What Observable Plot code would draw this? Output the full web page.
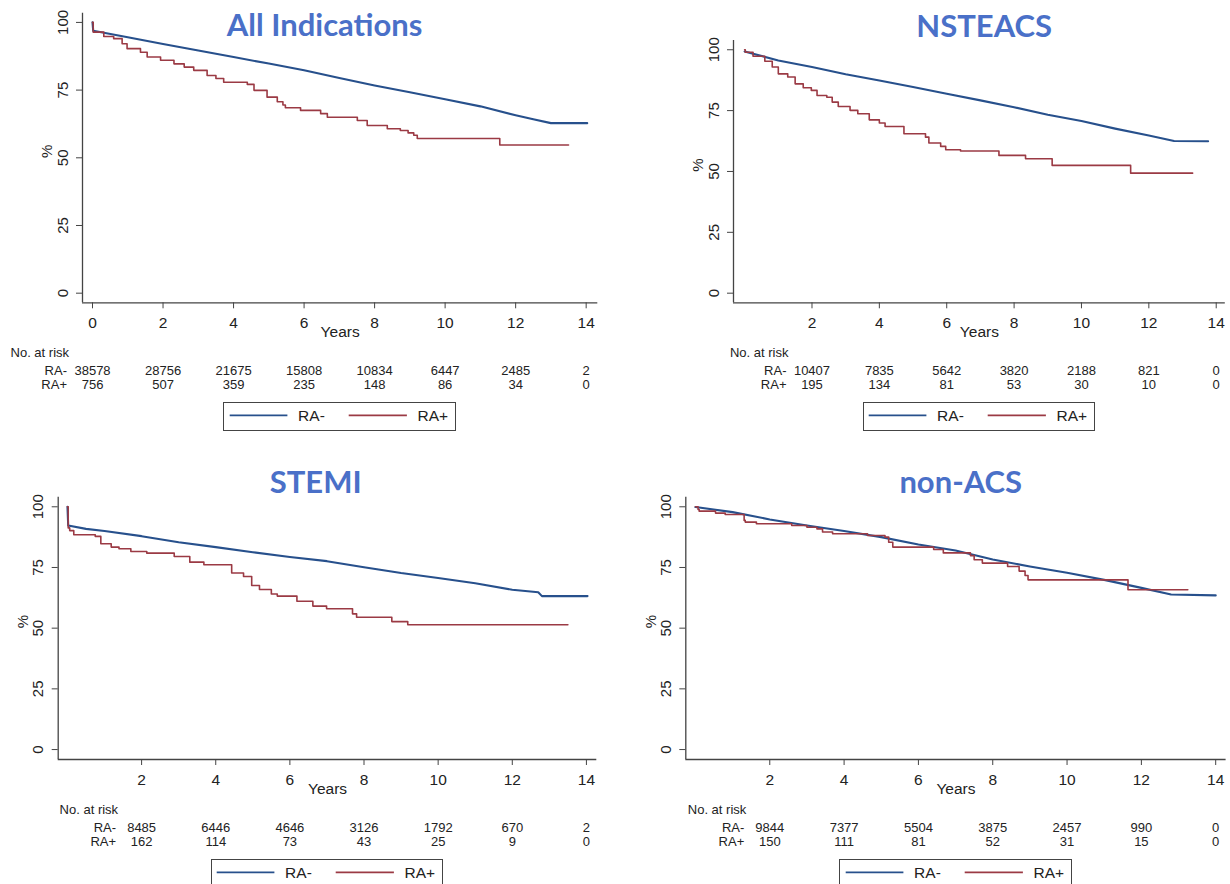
<!DOCTYPE html>
<html>
<head>
<meta charset="utf-8">
<script src="https://cdn.jsdelivr.net/npm/d3@7"></script>
<script src="https://cdn.jsdelivr.net/npm/@observablehq/plot@0.6"></script>
<style>
  html, body { margin: 0; padding: 0; background: #fff; }
  #page { position: relative; width: 1230px; height: 884px; overflow: hidden; background: #fff; }
  .panel { position: absolute; }
  .legend { position: absolute; box-sizing: border-box; border: 1.5px solid #444; background: #fff; }
</style>
</head>
<body>
<div id="page"></div>
<script>
// ---------- data ----------
const titles = ["All Indications", "NSTEACS", "STEMI", "non-ACS"];
const groups = ["RA-", "RA+"];
const yTicks = [0, 25, 50, 75, 100];
const xTicksAll = [0, 2, 4, 6, 8, 10, 12, 14];
const xTicksSub = [2, 4, 6, 8, 10, 12, 14];

// survival curves: [years, %]
const allNeg = [[0,100],[0.02,96.9],[1,94.5],[2,92],[3,89.6],[4,87.2],[5,84.8],[6,82.3],[7,79.5],[8,76.7],[9,74.2],[10,71.6],[11,69],[12,65.7],[12.5,64.2],[13,62.8],[14.03,62.8]];
const allPos = [[0,100],[0.02,96.4],[0.32,94.8],[0.6,94],[0.84,92.1],[0.98,90.3],[1.36,89],[1.55,87.2],[1.93,86],[2.31,84.7],[2.6,83.5],[2.87,82.3],[3.25,80.4],[3.5,79.3],[3.72,77.9],[4.39,77.1],[4.58,74.9],[4.95,72.4],[5.24,70.7],[5.4,69.5],[5.47,68.5],[5.9,67.5],[6.47,66.3],[6.66,65],[7.51,63.8],[7.79,61.9],[8.36,60.7],[8.73,60.1],[8.95,59.2],[9.11,58.3],[9.21,57.1],[11.55,54.7],[13.5,54.7]];
const nsteNeg = [[0,99.3],[1,95.6],[2,92.9],[3,89.9],[4,87.4],[5,84.7],[6,81.9],[7,79.2],[8,76.4],[9,73.3],[10,70.7],[11,67.6],[12,64.8],[12.75,62.5],[13.76,62.4]];
const nstePos = [[0,100],[0.02,99],[0.25,97.3],[0.6,95.3],[0.82,92.9],[1.0,90.1],[1.28,88.8],[1.5,86],[1.74,84.4],[1.98,83.3],[2.15,81.2],[2.44,80.5],[2.6,78.5],[2.78,76.7],[3.13,75.1],[3.36,73.7],[3.7,71.2],[4.0,69.9],[4.17,68.5],[4.73,65.5],[5.37,64.1],[5.47,61.7],[5.82,60.3],[5.97,58.9],[6.41,58.4],[7.55,56.6],[8.34,55.2],[9.13,52.5],[11.46,49.3],[13.3,49.3]];
const stemiNeg = [[0,100],[0.02,92.3],[0.5,90.9],[1,90],[2,87.9],[3,85.4],[4,83.4],[5,81.3],[6,79.3],[7,77.6],[8,75.1],[9,72.7],[10,70.7],[11,68.5],[12,65.8],[12.7,64.8],[12.8,63.2],[14.03,63.2]];
const stemiPos = [[0,100],[0.02,91.3],[0.06,90.2],[0.17,88.5],[0.75,87.8],[0.9,84.8],[1.18,83.4],[1.39,82.7],[1.71,81.6],[2.14,80.9],[2.88,79.5],[3.3,77.2],[3.68,76.1],[4.43,72.7],[4.75,71.3],[4.97,67.6],[5.18,65.9],[5.5,64.1],[5.66,63.2],[6.19,61.1],[6.62,59.1],[6.99,58],[7.69,55.9],[7.8,54.5],[8.75,52.7],[9.18,51.4],[13.5,51.4]];
const nonNeg = [[0,99.9],[1,97.8],[2,94.8],[3,92.3],[4,90],[5,87.5],[6,84.5],[7,82],[8,78.3],[9,75.4],[10,72.8],[11,69.9],[12,66.6],[12.8,63.9],[14,63.5]];
const nonPos = [[0,100],[0.07,98.9],[0.1,98.2],[0.54,97.4],[0.8,96.8],[1.31,94.4],[1.34,93.7],[1.64,93],[2.59,92.3],[3.0,91.6],[3.27,90.9],[3.42,89.6],[3.69,88.9],[4.63,88.2],[5.1,87.5],[5.2,85.4],[5.31,83.4],[6.41,82.4],[6.67,81],[7.4,79.9],[7.5,78.2],[7.72,76.8],[8.4,75.4],[8.71,73.5],[8.87,71.7],[8.95,69.9],[11.64,65.8],[13.25,65.8]];

// numbers at risk
const allRiskNeg = [38578, 28756, 21675, 15808, 10834, 6447, 2485, 2];
const allRiskPos = [756, 507, 359, 235, 148, 86, 34, 0];
const nsteRiskNeg = [10407, 7835, 5642, 3820, 2188, 821, 0];
const nsteRiskPos = [195, 134, 81, 53, 30, 10, 0];
const stemiRiskNeg = [8485, 6446, 4646, 3126, 1792, 670, 2];
const stemiRiskPos = [162, 114, 73, 43, 25, 9, 0];
const nonRiskNeg = [9844, 7377, 5504, 3875, 2457, 990, 0];
const nonRiskPos = [150, 111, 81, 52, 31, 15, 0];

// ---------- style ----------
const BLUE = "#27508c";
const RED = "#9b3a44";
const TITLE = "#4a70c8";
const INK = "#222";
const AXIS = "#444";
const FONT = "'Liberation Sans', Arial, Helvetica, sans-serif";
const TFONT = "Lato, 'Open Sans', sans-serif";

const panels = [
  {title: titles[0], neg: allNeg, pos: allPos, ticks: xTicksAll, rn: allRiskNeg, rp: allRiskPos,
   box: {left: 0, top: 0, w: 615, h: 440}, m: {l: 82, r: 17.7, t: 12.7, b: 137.7},
   xd: [-0.284, 14.33], yd: [-3.55, 103.4], tdx: -15.5, tdy: 22.3},
  {title: titles[1], neg: nsteNeg, pos: nstePos, ticks: xTicksSub, rn: nsteRiskNeg, rp: nsteRiskPos,
   box: {left: 615, top: 0, w: 615, h: 440}, m: {l: 118, r: 5.2, t: 40, b: 137.7},
   xd: [-0.33, 14.27], yd: [-3.95, 103.8], tdx: 4.8, tdy: -4},
  {title: titles[2], neg: stemiNeg, pos: stemiPos, ticks: xTicksSub, rn: stemiRiskNeg, rp: stemiRiskPos,
   box: {left: 0, top: 440, w: 615, h: 444}, m: {l: 57.7, r: 18.7, t: 56.7, b: 125},
   xd: [-0.25, 14.28], yd: [-4.1, 103.95], tdx: -11.8, tdy: -4.4},
  {title: titles[3], neg: nonNeg, pos: nonPos, ticks: xTicksSub, rn: nonRiskNeg, rp: nonRiskPos,
   box: {left: 615, top: 440, w: 615, h: 444}, m: {l: 70.3, r: 4.4, t: 56.7, b: 125},
   xd: [-0.26, 14.28], yd: [-4.1, 103.95], tdx: 4.8, tdy: -4.4}
];

const page = document.getElementById("page");

for (const p of panels) {
  const rows = p.ticks.map((t, i) => ({t, n: p.rn[i], q: p.rp[i]}));
  const t0 = p.ticks[0];
  const chart = Plot.plot({
    width: p.box.w, height: p.box.h,
    marginLeft: p.m.l, marginRight: p.m.r, marginTop: p.m.t, marginBottom: p.m.b,
    x: {domain: p.xd},
    y: {domain: p.yd},
    style: {fontFamily: FONT, color: INK, background: "transparent", overflow: "visible"},
    marks: [
      Plot.ruleX([p.xd[0]], {stroke: AXIS, strokeWidth: 1.3}),
      Plot.ruleY([p.yd[0]], {stroke: AXIS, strokeWidth: 1.3}),
      Plot.axisX(p.ticks, {tickSize: 6, tickPadding: 8, fontSize: 15.5, stroke: AXIS, fill: INK, label: null}),
      Plot.axisY(yTicks, {tickSize: 6, tickPadding: 9, tickRotate: -90, fontSize: 15, stroke: AXIS, fill: INK, label: null}),
      Plot.line(p.neg, {x: d => d[0], y: d => d[1], stroke: BLUE, strokeWidth: 2.1}),
      Plot.line(p.pos, {x: d => d[0], y: d => d[1], curve: "step-after", stroke: RED, strokeWidth: 1.6}),
      Plot.text([p.title], {frameAnchor: "top", dx: p.tdx, dy: p.tdy, lineAnchor: "bottom",
        fontFamily: TFONT, fontWeight: "bold", fontSize: 31, fill: TITLE}),
      Plot.text(["Years"], {frameAnchor: "bottom", dy: 34.4, fontSize: 15.5, fill: INK}),
      Plot.text(["%"], {frameAnchor: "left", dx: -35, rotate: -90, fontSize: 15, fill: INK}),
      Plot.text(["No. at risk"], {x: () => t0, frameAnchor: "bottom", dy: 54.4, dx: -82, textAnchor: "start", fontSize: 13, fill: INK}),
      Plot.text([groups[0]], {x: () => t0, frameAnchor: "bottom", dy: 72, dx: -25.5, textAnchor: "end", fontSize: 13, fill: INK}),
      Plot.text([groups[1]], {x: () => t0, frameAnchor: "bottom", dy: 86.3, dx: -25.5, textAnchor: "end", fontSize: 13, fill: INK}),
      Plot.text(rows, {x: "t", text: d => String(d.n), frameAnchor: "bottom", dy: 72, fontSize: 13, fill: INK}),
      Plot.text(rows, {x: "t", text: d => String(d.q), frameAnchor: "bottom", dy: 86.3, fontSize: 13, fill: INK})
    ]
  });
  const holder = document.createElement("div");
  holder.className = "panel";
  holder.style.left = p.box.left + "px";
  holder.style.top = p.box.top + "px";
  holder.appendChild(chart);
  page.appendChild(holder);

  // legend box (centered under the frame)
  const fx0 = p.box.left + p.m.l, fx1 = p.box.left + p.box.w - p.m.r;
  const fyb = p.box.top + p.box.h - p.m.b;
  const lw = 232.5, lh = 29;
  const lg = document.createElement("div");
  lg.className = "legend";
  lg.style.left = ((fx0 + fx1) / 2 - lw / 2) + "px";
  lg.style.top = (fyb + 99.5) + "px";
  lg.style.width = lw + "px";
  lg.style.height = lh + "px";
  const ns = "http://www.w3.org/2000/svg";
  const s = document.createElementNS(ns, "svg");
  s.setAttribute("width", lw); s.setAttribute("height", lh);
  s.style.position = "absolute"; s.style.left = "-1.5px"; s.style.top = "-1.5px";
  const items = [{x0: 6.7, x1: 64.4, tx: 75.1, c: BLUE, label: groups[0]}, {x0: 125.7, x1: 183.9, tx: 194.5, c: RED, label: groups[1]}];
  for (const it of items) {
    const ln = document.createElementNS(ns, "line");
    ln.setAttribute("x1", it.x0); ln.setAttribute("x2", it.x1);
    ln.setAttribute("y1", 14.3); ln.setAttribute("y2", 14.3);
    ln.setAttribute("stroke", it.c); ln.setAttribute("stroke-width", 1.7);
    s.appendChild(ln);
    const tx = document.createElementNS(ns, "text");
    tx.setAttribute("x", it.tx); tx.setAttribute("y", 14.3);
    tx.setAttribute("dy", "0.36em");
    tx.setAttribute("font-family", FONT); tx.setAttribute("font-size", 15.5);
    tx.setAttribute("fill", INK);
    tx.textContent = it.label;
    s.appendChild(tx);
  }
  lg.appendChild(s);
  page.appendChild(lg);
}
</script>
</body>
</html>
